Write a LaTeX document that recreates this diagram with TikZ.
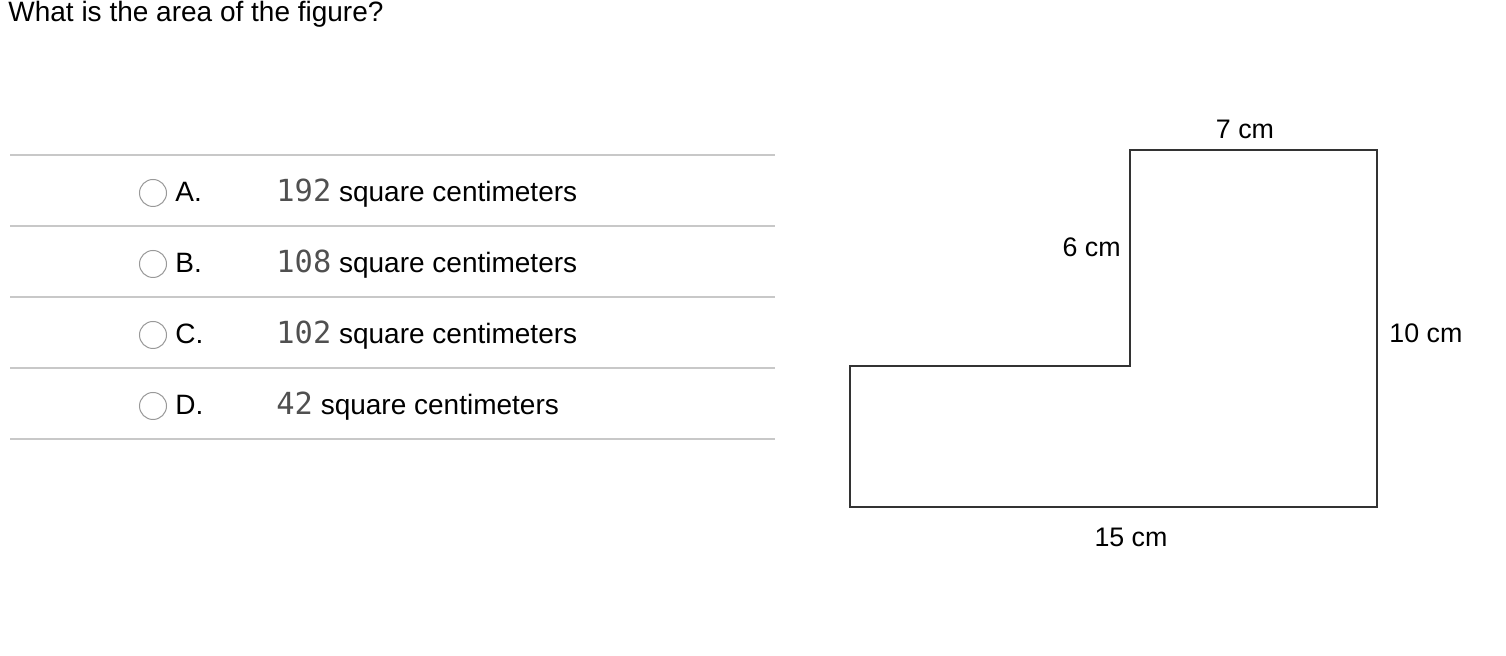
\documentclass[tikz,border=0pt]{standalone}
\usepackage{fontspec}
\setmainfont{Liberation Sans}
\newfontfamily\numfont{DejaVu Sans Mono}
\usetikzlibrary{positioning}
\definecolor{rulegray}{HTML}{C8C8C8}
\definecolor{edgegray}{HTML}{333333}
\definecolor{numgray}{HTML}{505050}
\newcommand{\txtsize}{\fontsize{14}{16}\selectfont}
\newcommand{\lblsize}{\fontsize{13.4}{15}\selectfont}

\begin{document}
\begin{tikzpicture}[x=0.5pt,y=-0.5pt,
    txt/.style={inner sep=0pt, anchor=base west, font=\txtsize},
    lbl/.style={inner sep=0pt, font=\lblsize},
    radio/.style={circle, draw=gray!80, line width=0.5pt, minimum size=13.5pt, inner sep=0pt},
    sep/.style={draw=rulegray, line width=1pt}]
    \useasboundingbox (0,0) rectangle (1506,656);
    %\draw[help lines] (0,0) grid[step=50] (1506,656);

    \node[txt] (title) at (8,22) {What is the area of the figure?};

    % separator lines
    \foreach \k/\y in {0/155,1/226,2/297,3/368,4/439}{
        \coordinate (sl\k) at (10,\y);
        \coordinate (sr\k) at (775,\y);
        \draw[sep] (sl\k) -- (sr\k);
    }

    % answer choices
    \foreach \l/\y/\n in {A/202/192,B/273/108,C/344/102,D/415/42}{
        \node[radio] (r\l) at (153,\y-9) {};
        \node[txt] (l\l) at (175,\y) {\l.};
        \node[txt] (n\l) at (276,\y) {{\numfont\fontsize{15.2}{17}\selectfont\color{numgray}\n} square centimeters};
    }

    % the figure
    \begin{scope}[line width=1.4pt, draw=edgegray]
        \coordinate (a) at (850,366);
        \coordinate (b) at (1130,366);
        \coordinate (c) at (1130,150);
        \coordinate (d) at (1377,150);
        \coordinate (e) at (1377,507);
        \coordinate (f) at (850,507);
        \draw[line join=miter] (a) -- (b) -- (c) -- (d) -- (e) -- (f) -- cycle;
    \end{scope}

    \node[lbl, anchor=base] (top) at (1245,139) {7 cm};
    \node[lbl, anchor=base east] (left) at (1121,257) {6 cm};
    \node[lbl, anchor=base west] (right) at (1389,343) {10 cm};
    \node[lbl, anchor=base] (bottom) at (1131,547) {15 cm};
\end{tikzpicture}
\end{document}
